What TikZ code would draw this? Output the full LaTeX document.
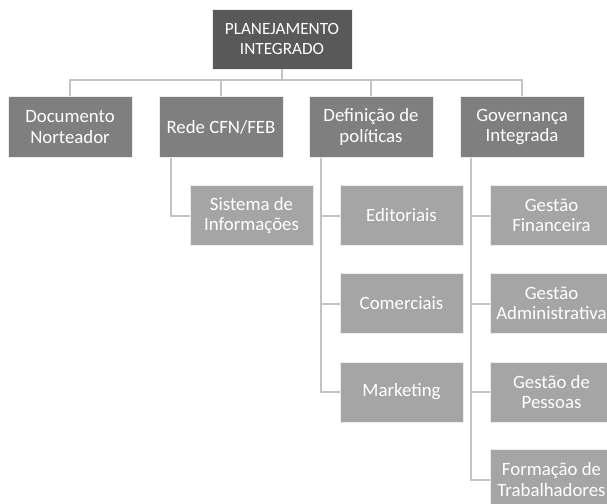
\documentclass[tikz,border=0pt]{standalone}
\usepackage{fontspec}
\setmainfont{Carlito}
\definecolor{topc}{HTML}{595959}
\definecolor{midc}{HTML}{7F7F7F}
\definecolor{subc}{HTML}{A5A5A5}
\definecolor{linec}{HTML}{C4C4C4}
\tikzset{
  box/.style={rectangle, draw=white!85!gray, line width=0.8pt, text=white, align=center,
    font=\fontsize{18.8}{20.5}\selectfont, inner sep=0pt},
  topbox/.style={box, fill=topc, minimum width=140pt, minimum height=60pt,
    font=\fontsize{17.2}{20}\selectfont},
  midbox/.style={box, fill=midc, minimum width=124pt, minimum height=61pt},
  subbox/.style={box, fill=subc, minimum width=123pt, minimum height=60pt},
  conn/.style={draw=linec, line width=2pt}
}
\begin{document}
\begin{tikzpicture}[x=1pt,y=-1pt]
\useasboundingbox (0,0) rectangle (607,503);
\fill[white] (0,0) rectangle (607,503);
\node[topbox] (top) at (282,39) {PLANEJAMENTO\\INTEGRADO};
\node[midbox] (doc) at (70,127) {Documento\\Norteador};
\node[midbox] (rede) at (221,127) {Rede CFN/FEB};
\node[midbox] (def) at (371,127) {Definição de\\políticas};
\node[midbox] (gov) at (522,127) {Governança\\Integrada};
\node[subbox] (sis) at (251.5,215.5) {Sistema de\\Informações};
\node[subbox] (edi) at (401.5,215.5) {Editoriais};
\node[subbox] (com) at (401.5,303.5) {Comerciais};
\node[subbox] (mkt) at (401.5,392) {Marketing};
\node[subbox] (gfin) at (551.5,215.5) {Gestão\\Financeira};
\node[subbox] (gadm) at (551.5,303.5) {Gestão\\Administrativa};
\node[subbox] (gpes) at (551.5,392) {Gestão de\\Pessoas};
\node[subbox] (form) at (551.5,479.5) {Formação de\\Trabalhadores};
\coordinate (bus) at (282,80);
\draw[conn] (top.south) -- (bus);
\draw[conn] (doc.north) |- (bus) -| (gov.north);
\draw[conn] (rede.north) |- (bus);
\draw[conn] (def.north) |- (bus);
\draw[conn] ([xshift=-50pt]rede.south) |- (sis.west);
\draw[conn] ([xshift=-50pt]def.south) |- (edi.west);
\draw[conn] ([xshift=-50pt]def.south) |- (com.west);
\draw[conn] ([xshift=-50pt]def.south) |- (mkt.west);
\draw[conn] ([xshift=-51pt]gov.south) |- (gfin.west);
\draw[conn] ([xshift=-51pt]gov.south) |- (gadm.west);
\draw[conn] ([xshift=-51pt]gov.south) |- (gpes.west);
\draw[conn] ([xshift=-51pt]gov.south) |- (form.west);
\end{tikzpicture}
\end{document}
